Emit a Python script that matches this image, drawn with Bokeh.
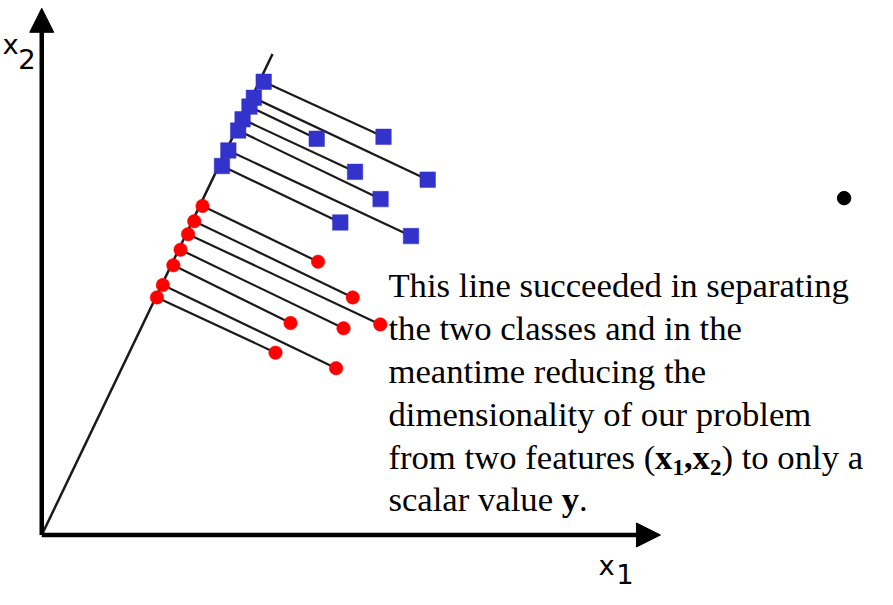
from bokeh.plotting import figure
from bokeh.models import Range1d, Arrow, NormalHead
from bokeh.core.properties import value
from bokeh.embed import file_html
from bokeh.resources import INLINE

# ---- data (feature space: x1 to the right, x2 upward, origin at axes corner) ----
blue_x1 = [348, 393, 280, 319, 345, 376, 304]
blue_x2 = [409, 365, 407, 373, 345, 307, 321]
blue_proj_x1 = [226, 216, 211.5, 204.5, 200, 190, 183.5]
blue_proj_x2 = [465.5, 449, 440, 427, 415.5, 395, 379]

red_x1 = [281.3, 316.7, 344.7, 307.3, 253.3, 299.7, 238]
red_x2 = [280.7, 244, 216.3, 212.3, 217.7, 171.3, 187.3]
red_proj_x1 = [163.7, 155.3, 149, 141.3, 134, 123.3, 117.3]
red_proj_x2 = [338, 322.3, 309, 293, 277, 256.7, 244]

proj_line_x1 = [0, 235]
proj_line_x2 = [0, 494]

text_lines = [
    "This line succeeded in separating",
    "the two classes and in the",
    "meantime reducing the",
    "dimensionality of our problem",
]

p = figure(width=877, height=589, output_backend="svg", toolbar_location=None,
           x_range=Range1d(-42, 851), y_range=Range1d(-56, 549),
           min_border=0, min_border_left=0, min_border_right=0,
           min_border_top=0, min_border_bottom=0)
p.axis.visible = False
p.grid.visible = False
p.outline_line_color = None
p.background_fill_color = "white"
p.border_fill_color = "white"

# axes with arrow heads
p.add_layout(Arrow(x_start=0, y_start=0, x_end=0, y_end=541, line_width=4.5, line_color="black",
                   end=NormalHead(size=24, fill_color="black", line_color="black", line_width=1)))
p.add_layout(Arrow(x_start=0, y_start=0, x_end=630, y_end=0, line_width=4.5, line_color="black",
                   end=NormalHead(size=24, fill_color="black", line_color="black", line_width=1)))

# projection line
p.line(proj_line_x1, proj_line_x2, line_width=2.5, line_color="#1a1a1a")

# projection segments
p.segment(x0=blue_proj_x1, y0=blue_proj_x2, x1=blue_x1, y1=blue_x2, line_width=2.2, line_color="#1a1a1a")
p.segment(x0=red_proj_x1, y0=red_proj_x2, x1=red_x1, y1=red_x2, line_width=2.2, line_color="#1a1a1a")

# markers
p.scatter(blue_x1, blue_x2, marker="square", size=15.5, fill_color="#3333CC", line_color="#3333CC", line_width=0.5)
p.scatter(blue_proj_x1, blue_proj_x2, marker="square", size=15.5, fill_color="#3333CC", line_color="#3333CC", line_width=0.5)
p.scatter(red_x1, red_x2, marker="circle", size=13.5, fill_color="#FF0000", line_color="#FF0000", line_width=0.5)
p.scatter(red_proj_x1, red_proj_x2, marker="circle", size=13.5, fill_color="#FF0000", line_color="#FF0000", line_width=0.5)

# axis labels (anchor at vertical middle of the text box)
sans = value("DejaVu Sans")
sfs = "27.4px"
so = 9.7
p.text(x=[-40], y=[494 + so], text=["x"], text_font=sans, text_font_size=sfs,
       text_baseline="middle", text_color="black")
p.text(x=[-24], y=[479 + so], text=["2"], text_font=sans, text_font_size=sfs,
       text_baseline="middle", text_color="black")
p.text(x=[567], y=[-41 + so], text=["x"], text_font=sans, text_font_size=sfs,
       text_baseline="middle", text_color="black")
p.text(x=[585], y=[-50 + so], text=["1"], text_font=sans, text_font_size=sfs,
       text_baseline="middle", text_color="black")

# bullet
p.scatter([817], [346], marker="circle", size=13.5, fill_color="black", line_color="black")

# body text
serif = value("Liberation Serif")
fs = "34.7px"
o = 12.0
base_y = [244, 200, 156, 112]
p.text(x=[353] * len(text_lines), y=[b + o for b in base_y], text=text_lines, text_font=serif,
       text_font_size=fs, text_baseline="middle", text_color="black")

# line 5 with bold and subscripts
y5 = 68
p.text(x=[353], y=[y5 + o], text=["from two features ("], text_font=serif, text_font_size=fs,
       text_baseline="middle", text_color="black")
p.text(x=[624.5, 662.7], y=[y5 + o, y5 + o], text=["x", "x"], text_font=serif, text_font_size=fs,
       text_font_style="bold", text_baseline="middle", text_color="black")
p.text(x=[653.9], y=[y5 + o], text=[","], text_font=serif, text_font_size=fs,
       text_font_style="bold", text_baseline="middle", text_color="black")
p.text(x=[642.2, 680.4], y=[y5 - 7 + 8, y5 - 7 + 8], text=["1", "2"], text_font=serif,
       text_font_size="23px", text_font_style="bold", text_baseline="middle", text_color="black")
p.text(x=[692.1], y=[y5 + o], text=[") to only a"], text_font=serif, text_font_size=fs,
       text_baseline="middle", text_color="black")

# line 6
y6 = 24
p.text(x=[353], y=[y6 + o], text=["scalar value"], text_font=serif, text_font_size=fs,
       text_baseline="middle", text_color="black")
p.text(x=[529.4], y=[y6 + o], text=["y"], text_font=serif, text_font_size=fs,
       text_font_style="bold", text_baseline="middle", text_color="black")
p.text(x=[547.1], y=[y6 + o], text=["."], text_font=serif, text_font_size=fs,
       text_baseline="middle", text_color="black")

open("out.html", "w").write(file_html(p, INLINE))
